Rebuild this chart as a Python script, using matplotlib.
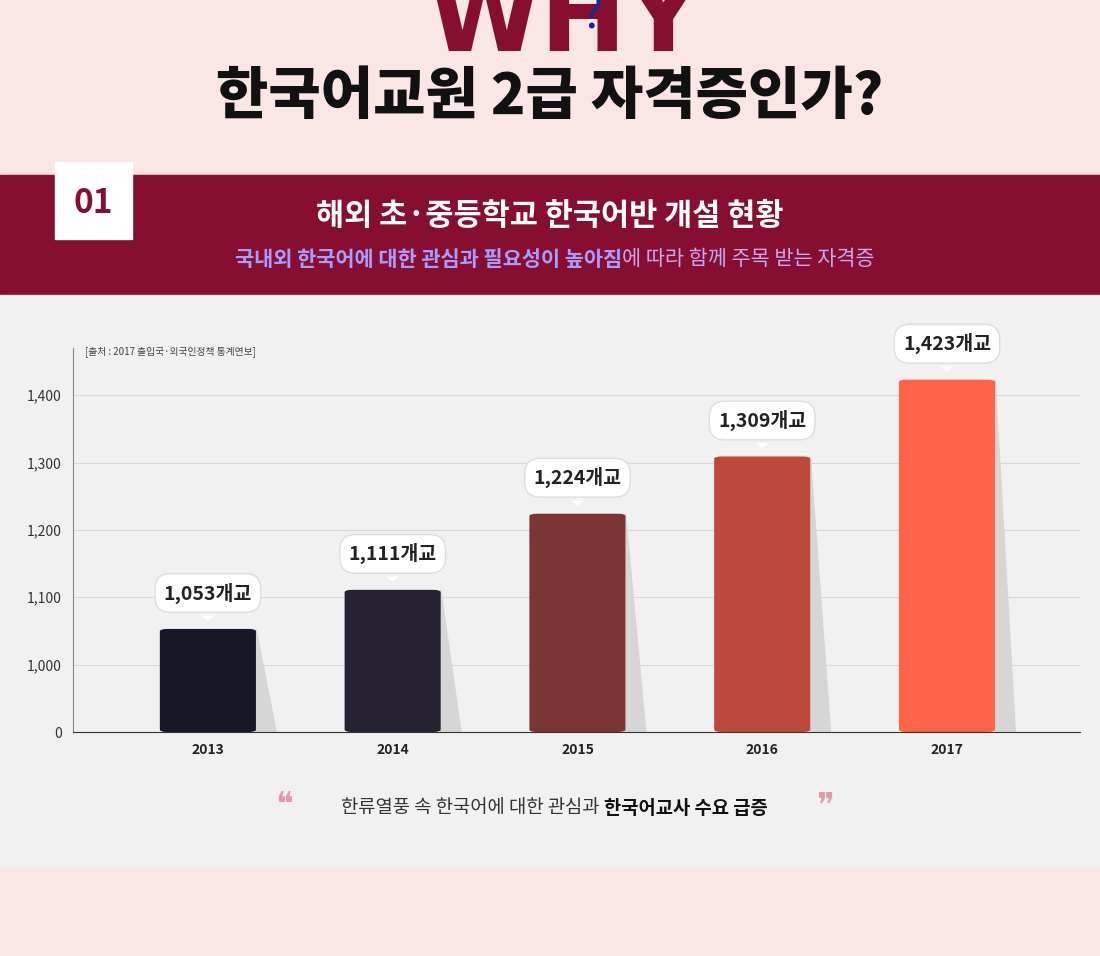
import matplotlib
matplotlib.use("Agg")
import matplotlib.pyplot as plt
from matplotlib.patches import Rectangle, Polygon, FancyBboxPatch

plt.rcParams["font.family"] = ["Noto Sans CJK JP", "Noto Sans CJK KR", "DejaVu Sans"]

years = ["2013", "2014", "2015", "2016", "2017"]
schools = [1053, 1111, 1224, 1309, 1423]
labels = ["1,053개교", "1,111개교", "1,224개교", "1,309개교", "1,423개교"]
tick_values = [0, 1000, 1100, 1200, 1300, 1400]
colors = ["#161925", "#272231", "#7b3535", "#bc4a3c", "#ff6348"]
BASE = 900  # broken axis: 0 drawn one step below 1000

fig = plt.figure(figsize=(11, 9.56), dpi=100)
bg = fig.add_axes([0, 0, 1, 1])
bg.set_xlim(0, 1100); bg.set_ylim(956, 0); bg.axis("off")
bg.add_patch(Rectangle((0, 0), 1100, 956, color="#fbe6e6"))
bg.add_patch(Rectangle((0, 175), 1100, 120, color="#860e30"))
bg.add_patch(Rectangle((0, 295), 1100, 572, color="#f1f1f1"))
bg.add_patch(Rectangle((55, 162), 77, 77, color="white"))
bg.text(93, 203, "01", color="#860e30", fontsize=24, fontweight="bold", ha="center", va="center")
bg.text(565, 22, "WHY", color="#860e30", fontsize=74, fontweight="black", ha="center", va="center", family="DejaVu Sans")
bg.text(592, 14, "?", color="#1a2a8a", fontsize=32, ha="center", va="center", style="italic")
bg.text(550, 97, "한국어교원 2급 자격증인가?", color="#111111", fontsize=41, fontweight="black", ha="center", va="center")
bg.text(550, 216, "해외 초·중등학교 한국어반 개설 현황", color="white", fontsize=22, fontweight="bold", ha="center", va="center")
bg.text(622, 259, "국내외 한국어에 대한 관심과 필요성이 높아짐", color="#a99cff", fontsize=15, fontweight="bold", ha="right", va="center")
bg.text(622, 259, "에 따라 함께 주목 받는 자격증", color="#c9a6f0", fontsize=15, ha="left", va="center")
bg.text(284, 806, "❝", color="#e59aaa", fontsize=24, ha="center", va="center", family="DejaVu Sans")
bg.text(826, 806, "❞", color="#e59aaa", fontsize=24, ha="center", va="center", family="DejaVu Sans")
bg.text(604, 808, "한류열풍 속 한국어에 대한 관심과 ", color="#333333", fontsize=13.5, ha="right", va="center")
bg.text(604, 808, "한국어교사 수요 급증", color="#111111", fontsize=13.5, fontweight="bold", ha="left", va="center")
bg.text(85, 353, "[출처 : 2017 출입국·외국인정책 통계연보]", color="#444444", fontsize=7, ha="left", va="center")

ax = fig.add_axes([73/1100, (956-732)/956, (1080-73)/1100, (732-348)/956])
ax.set_facecolor("none")
x = list(range(len(years)))
h = [v - BASE for v in schools]
w = 0.52
ax.set_xlim(-0.73, 4.72); ax.set_ylim(0, 570)
for i in x:
    ax.add_patch(Polygon([(i + w/2, 0), (i + w/2, h[i]), (i + w/2 + 0.11, 0)], color="#d6d6d6", zorder=1))
    ax.add_patch(FancyBboxPatch((i - w/2, 0), w, h[i], boxstyle="round,pad=0,rounding_size=0.04",
                                mutation_aspect=90, color=colors[i], zorder=2, lw=0))
    ax.annotate(labels[i], (i, h[i] + 8), xytext=(0, 22), textcoords="offset points",
                ha="center", va="center", fontsize=14, fontweight="bold", color="#222222",
                bbox=dict(boxstyle="round,pad=0.45,rounding_size=0.8", fc="white", ec="#dddddd", lw=1),
                arrowprops=dict(arrowstyle="wedge,tail_width=0.7", fc="white", ec="none"), zorder=5)
ax.set_yticks([v - BASE if v else 0 for v in tick_values])
ax.set_yticklabels([f"{v:,}" for v in tick_values], fontsize=10, color="#333333")
ax.set_xticks(x); ax.set_xticklabels(years, fontsize=10, fontweight="bold", color="#222222")
ax.grid(axis="y", color="#d8d8d8", lw=0.8); ax.set_axisbelow(True)
for s in ["top", "right"]:
    ax.spines[s].set_visible(False)
ax.spines["left"].set_color("#888888"); ax.spines["bottom"].set_color("#333333")
ax.tick_params(length=0, pad=8)
fig.savefig("out.png", dpi=100)
